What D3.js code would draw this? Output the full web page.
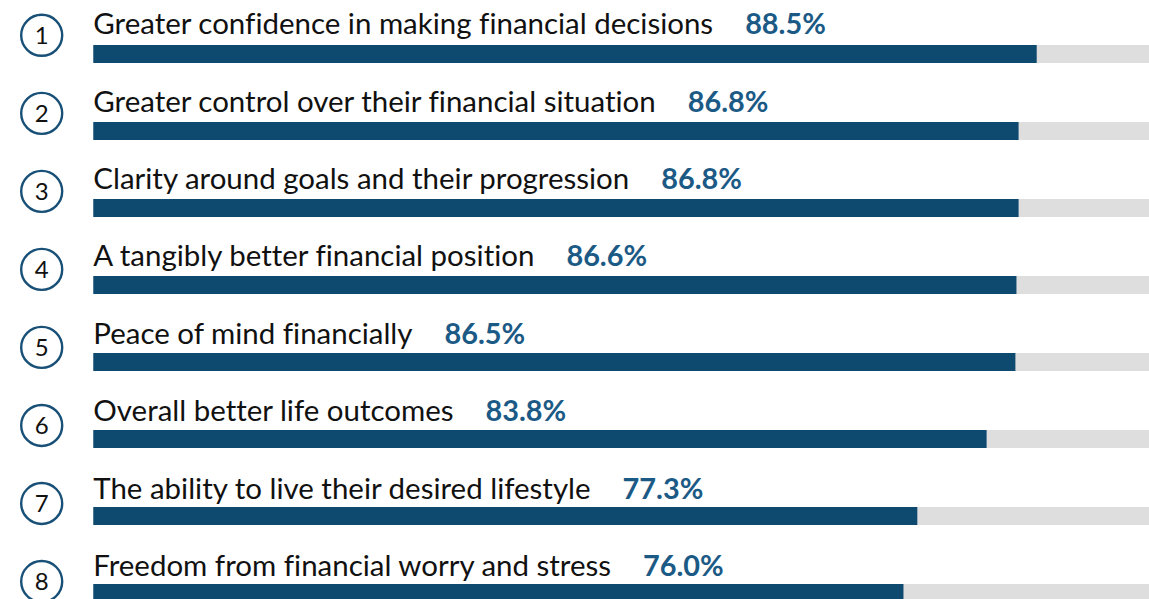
<!DOCTYPE html>
<html><head><meta charset="utf-8">
<script src="https://cdn.jsdelivr.net/npm/d3@7"></script>
<style>html,body{margin:0;padding:0;background:#fff;overflow:hidden} text{font-variant-ligatures:none;font-feature-settings:"liga" 0}</style>
</head><body>
<svg id="chart" width="1149" height="599"></svg>
<script>
const categories = [
  "Greater confidence in making financial decisions",
  "Greater control over their financial situation",
  "Clarity around goals and their progression",
  "A tangibly better financial position",
  "Peace of mind financially",
  "Overall better life outcomes",
  "The ability to live their desired lifestyle",
  "Freedom from financial worry and stress"
];
const values = [88.5, 86.8, 86.8, 86.6, 86.5, 83.8, 77.3, 76.0];
const ranks = [1, 2, 3, 4, 5, 6, 7, 8];

const svg = d3.select("#chart");
const idx = d3.range(categories.length);
const x = d3.scaleLinear().domain([0, 100]).range([93.3, 1159.3]);
const yBar = d3.scaleLinear().domain([0, 7]).range([45, 584]);
const yText = d3.scaleLinear().domain([0, 7]).range([34.3, 576]);
const yCircle = d3.scaleLinear().domain([0, 7]).range([35.3, 581.5]);
const barH = 18;
const FONT = "Lato, 'Open Sans', sans-serif";

const g = svg.selectAll("g.row").data(idx).join("g").attr("class", "row");

g.append("rect")
  .attr("x", x(0)).attr("y", i => yBar(i))
  .attr("width", x(100) - x(0)).attr("height", barH)
  .attr("fill", "#dedede");

g.append("rect")
  .attr("x", x(0)).attr("y", i => yBar(i))
  .attr("width", i => x(values[i]) - x(0)).attr("height", barH)
  .attr("fill", "#0e4a6f");

g.append("circle")
  .attr("cx", 41.7).attr("cy", i => yCircle(i)).attr("r", 20.5)
  .attr("fill", "#fff").attr("stroke", "#185077").attr("stroke-width", 2.4);

g.append("text")
  .attr("x", 41.7).attr("y", i => yCircle(i) + 8.5)
  .attr("text-anchor", "middle")
  .attr("font-family", FONT).attr("font-size", 24).attr("fill", "#111")
  .text(i => ranks[i]);

const labels = g.append("text")
  .attr("class", "lab")
  .attr("x", 93.3).attr("y", i => yText(i))
  .attr("font-family", FONT).attr("font-size", 25).attr("fill", "#111")
  .text(i => categories[i]);

// fit font size so first label spans its measured width in reference
const w0 = labels.nodes()[0].getComputedTextLength();
const fs = 25 * 620 / w0;
labels.attr("font-size", fs);

g.append("text")
  .attr("x", function(i){ return 93.3 + labels.nodes()[i].getComputedTextLength() + 32; })
  .attr("y", i => yText(i))
  .attr("font-family", FONT).attr("font-weight", "bold").attr("font-size", fs * 0.98)
  .attr("fill", "#1c5a86")
  .text(i => values[i].toFixed(1) + "%");
</script>
</body></html>
